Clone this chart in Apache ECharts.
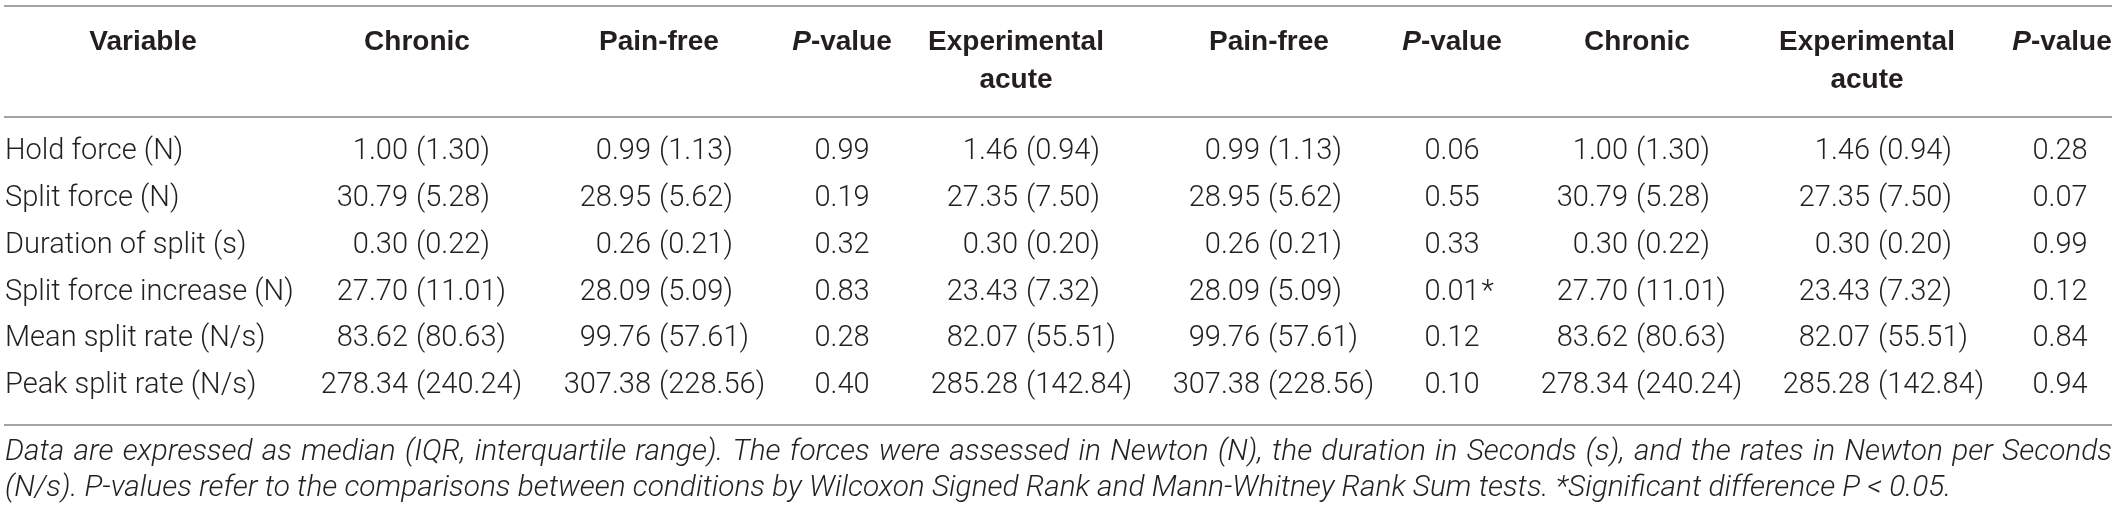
<!DOCTYPE html>
<html><head><meta charset="utf-8">
<script src="https://cdn.jsdelivr.net/npm/echarts@6/dist/echarts.min.js"></script>
<style>html,body{margin:0;padding:0;background:#fff}#c{width:2120px;height:510px}</style>
</head><body><div id="c"></div>
<script>
// ---- data ----
const variables = ['Hold force (N)', 'Split force (N)', 'Duration of split (s)', 'Split force increase (N)', 'Mean split rate (N/s)', 'Peak split rate (N/s)'];
const chronicMedian = [1.00, 30.79, 0.30, 27.70, 83.62, 278.34];
const chronicIQR = [1.30, 5.28, 0.22, 11.01, 80.63, 240.24];
const painFreeMedian = [0.99, 28.95, 0.26, 28.09, 99.76, 307.38];
const painFreeIQR = [1.13, 5.62, 0.21, 5.09, 57.61, 228.56];
const acuteMedian = [1.46, 27.35, 0.30, 23.43, 82.07, 285.28];
const acuteIQR = [0.94, 7.50, 0.20, 7.32, 55.51, 142.84];
const pChronicVsPainFree = [0.99, 0.19, 0.32, 0.83, 0.28, 0.40];
const pAcuteVsPainFree = [0.06, 0.55, 0.33, 0.01, 0.12, 0.10];
const pChronicVsAcute = [0.28, 0.07, 0.99, 0.12, 0.84, 0.94];
const headers = ['Variable', 'Chronic', 'Pain-free', 'P-value', 'Experimental\nacute', 'Pain-free', 'P-value', 'Chronic', 'Experimental\nacute', 'P-value'];
const footnoteLine1 = 'Data are expressed as median (IQR, interquartile range). The forces were assessed in Newton (N), the duration in Seconds (s), and the rates in Newton per Seconds';
const footnoteLine2 = '(N/s). P-values refer to the comparisons between conditions by Wilcoxon Signed Rank and Mann-Whitney Rank Sum tests. *Significant difference P < 0.05.';

const columns = [
  { kind: 'label', values: variables },
  { kind: 'mi', med: chronicMedian, iqr: chronicIQR },
  { kind: 'mi', med: painFreeMedian, iqr: painFreeIQR },
  { kind: 'p', values: pChronicVsPainFree },
  { kind: 'mi', med: acuteMedian, iqr: acuteIQR },
  { kind: 'mi', med: painFreeMedian, iqr: painFreeIQR },
  { kind: 'p', values: pAcuteVsPainFree },
  { kind: 'mi', med: chronicMedian, iqr: chronicIQR },
  { kind: 'mi', med: acuteMedian, iqr: acuteIQR },
  { kind: 'p', values: pChronicVsAcute }
];

// ---- layout (pixels) ----
const W = 2120, H = 510;
const colX = [5, 408, 651, 842, 1018, 1260, 1452, 1628, 1870, 2060];
const headerX = [143, 417, 659, 842, 1016, 1269, 1452, 1637, 1867, 2062];
const rowStep = 46.8;
const rowMid0 = 152;
const headerMid = [42.3, 80.3];
const footMid = [452.3, 488.3];
const rules = [6, 117, 425];
const ruleX = [4, 2112];
const TXT = '#231f20';
const bodyFamily = 'Roboto';
const bodyFont = '300 29px Roboto';
const headFamily = '"Liberation Sans", Arial, sans-serif';
const headFont = 'bold 28px ' + headFamily;
const gapIQR = 8;

const mctx = document.createElement('canvas').getContext('2d');
function textW(t, font) { mctx.font = font; return mctx.measureText(t).width; }

// body cells
const bodyData = [];
for (let r = 0; r < variables.length; r++) {
  for (let c = 0; c < columns.length; c++) bodyData.push([colX[c], r, c]);
}
const headerData = headers.map((h, i) => [headerX[i], 0, i]);

function renderBody(params, api) {
  const x = api.value(0), r = api.value(1), c = api.value(2);
  const pt = api.coord([x, r]);
  const col = columns[c];
  const base = { verticalAlign: 'middle', font: bodyFont, fill: TXT };
  if (col.kind === 'label') {
    return { type: 'text', style: Object.assign({}, base, { text: col.values[r], x: pt[0], y: pt[1], align: 'left' }) };
  }
  if (col.kind === 'mi') {
    return { type: 'group', children: [
      { type: 'text', style: Object.assign({}, base, { text: col.med[r].toFixed(2), x: pt[0], y: pt[1], align: 'right' }) },
      { type: 'text', style: Object.assign({}, base, { text: '(' + col.iqr[r].toFixed(2) + ')', x: pt[0] + gapIQR, y: pt[1], align: 'left' }) }
    ] };
  }
  const v = col.values[r];
  const s = v.toFixed(2);
  const children = [{ type: 'text', style: Object.assign({}, base, { text: s, x: pt[0], y: pt[1], align: 'center' }) }];
  if (v < 0.05) {
    children.push({ type: 'text', style: Object.assign({}, base, { text: '*', x: pt[0] + textW(s, bodyFont) / 2 + 2, y: pt[1], align: 'left' }) });
  }
  return { type: 'group', children };
}

function renderHeader(params, api) {
  const i = api.value(2);
  const px = api.coord([api.value(0), 0])[0];
  const lines = headers[i].split('\n');
  return { type: 'group', children: lines.map((ln, k) => {
    const isP = ln.indexOf('P-value') === 0;
    return { type: 'text', style: {
      text: isP ? '{pi|P}{b|-value}' : ln,
      x: px, y: headerMid[k], align: 'center', verticalAlign: 'middle',
      font: headFont, fill: TXT,
      rich: isP ? {
        pi: { fontStyle: 'italic', fontWeight: 'bold', fontSize: 28, fontFamily: headFamily, fill: TXT, color: TXT },
        b: { fontWeight: 'bold', fontSize: 28, fontFamily: headFamily, fill: TXT, color: TXT }
      } : undefined
    } };
  }) };
}

// footnote (justified first line)
const footFamily = 'Roboto';
const natural = textW(footnoteLine2, 'italic 300 28px ' + footFamily);
const footSize = 28 * 1947 / natural;
const footFont = 'italic 300 ' + footSize.toFixed(2) + 'px ' + footFamily;
const graphics = [];
rules.forEach(y => graphics.push({ type: 'line', shape: { x1: ruleX[0], y1: y, x2: ruleX[1], y2: y }, style: { stroke: '#a3a3a3', lineWidth: 2 }, silent: true }));
(function () {
  const words = footnoteLine1.split(' ');
  const widths = words.map(w => textW(w, footFont));
  const total = widths.reduce((a, b) => a + b, 0);
  const gap = (ruleX[1] - 5 - total) / (words.length - 1);
  let x = 5;
  words.forEach((w, k) => {
    graphics.push({ type: 'text', style: { text: w, x: x, y: footMid[0], font: footFont, fill: TXT, align: 'left', verticalAlign: 'middle' }, silent: true });
    x += widths[k] + gap;
  });
  graphics.push({ type: 'text', style: { text: footnoteLine2, x: 5, y: footMid[1], font: footFont, fill: TXT, align: 'left', verticalAlign: 'middle' }, silent: true });
})();

const chart = echarts.init(document.getElementById('c'), null, { renderer: 'canvas', width: W, height: H });
chart.setOption({
  backgroundColor: '#ffffff',
  animation: false,
  grid: { left: 0, right: 0, top: rowMid0 - rowStep / 2, height: rowStep * variables.length, containLabel: false },
  xAxis: { type: 'value', min: 0, max: W, show: false },
  yAxis: { type: 'category', data: variables, inverse: true, show: false },
  graphic: graphics,
  series: [
    { type: 'custom', name: 'body', data: bodyData, dimensions: ['x', 'row', 'col'], encode: { x: 0, y: 1 }, renderItem: renderBody, clip: false, silent: true },
    { type: 'custom', name: 'header', data: headerData, dimensions: ['x', 'row', 'col'], encode: { x: 0, y: 1 }, renderItem: renderHeader, clip: false, silent: true }
  ]
});
</script></body></html>
